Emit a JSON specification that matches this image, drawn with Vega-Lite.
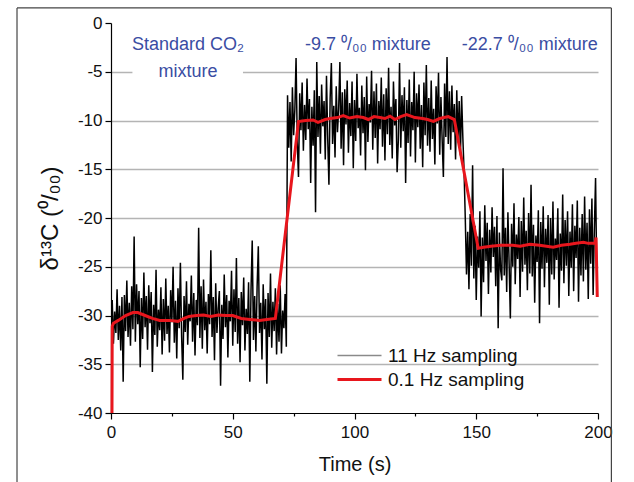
{
"$schema":"https://vega.github.io/schema/vega-lite/v6.json",
"width":487,"height":390,
"autosize":{"type":"none"},
"padding":{"left":111,"top":23,"right":36,"bottom":69},
"background":"white",
"config":{"view":{"stroke":null},"font":"Liberation Sans"},
"datasets":{
"hz11":[
{"t":0.5,"v":-28.4},{"t":1.0,"v":-32.9},{"t":1.5,"v":-29.6},{"t":2.0,"v":-31.8},{"t":2.5,"v":-27.3},{"t":3.0,"v":-32.5},{"t":3.5,"v":-29.0},{"t":4.0,"v":-33.6},{"t":4.5,"v":-28.1},{"t":5.0,"v":-36.8},
{"t":5.5,"v":-27.9},{"t":6.0,"v":-31.6},{"t":6.5,"v":-26.4},{"t":7.0,"v":-32.2},{"t":7.5,"v":-28.7},{"t":8.0,"v":-33.1},{"t":8.5,"v":-27.0},{"t":9.0,"v":-31.4},{"t":9.5,"v":-21.9},{"t":10.0,"v":-32.7},
{"t":10.5,"v":-26.8},{"t":11.0,"v":-30.9},{"t":11.5,"v":-27.5},{"t":12.0,"v":-35.3},{"t":12.5,"v":-28.2},{"t":13.0,"v":-32.4},{"t":13.5,"v":-25.6},{"t":14.0,"v":-31.2},{"t":14.5,"v":-28.0},{"t":15.0,"v":-33.5},
{"t":15.5,"v":-26.9},{"t":16.0,"v":-30.8},{"t":16.5,"v":-27.6},{"t":17.0,"v":-35.8},{"t":17.5,"v":-28.9},{"t":18.0,"v":-32.0},{"t":18.5,"v":-25.3},{"t":19.0,"v":-33.2},{"t":19.5,"v":-29.4},{"t":20.0,"v":-31.5},
{"t":20.5,"v":-27.1},{"t":21.0,"v":-34.0},{"t":21.5,"v":-28.3},{"t":22.0,"v":-32.6},{"t":22.5,"v":-26.2},{"t":23.0,"v":-31.9},{"t":23.5,"v":-29.0},{"t":24.0,"v":-33.8},{"t":24.5,"v":-27.4},{"t":25.0,"v":-30.7},
{"t":25.5,"v":-25.0},{"t":26.0,"v":-32.8},{"t":26.5,"v":-28.5},{"t":27.0,"v":-34.4},{"t":27.5,"v":-27.2},{"t":28.0,"v":-31.3},{"t":28.5,"v":-24.6},{"t":29.0,"v":-32.1},{"t":29.5,"v":-36.6},{"t":30.0,"v":-28.0},
{"t":30.5,"v":-31.7},{"t":31.0,"v":-26.5},{"t":31.5,"v":-33.0},{"t":32.0,"v":-28.8},{"t":32.5,"v":-30.6},{"t":33.0,"v":-25.9},{"t":33.5,"v":-32.7},{"t":34.0,"v":-27.7},{"t":34.5,"v":-34.1},{"t":35.0,"v":-28.4},
{"t":35.5,"v":-31.0},{"t":36.0,"v":-21.0},{"t":36.5,"v":-32.3},{"t":37.0,"v":-27.0},{"t":37.5,"v":-33.4},{"t":38.0,"v":-26.3},{"t":38.5,"v":-31.5},{"t":39.0,"v":-28.6},{"t":39.5,"v":-33.9},{"t":40.0,"v":-27.8},
{"t":40.5,"v":-30.9},{"t":41.0,"v":-23.3},{"t":41.5,"v":-32.2},{"t":42.0,"v":-28.1},{"t":42.5,"v":-34.6},{"t":43.0,"v":-26.7},{"t":43.5,"v":-31.8},{"t":44.0,"v":-29.2},{"t":44.5,"v":-27.5},{"t":45.0,"v":-37.2},
{"t":45.5,"v":-28.9},{"t":46.0,"v":-32.4},{"t":46.5,"v":-25.8},{"t":47.0,"v":-31.2},{"t":47.5,"v":-27.9},{"t":48.0,"v":-34.3},{"t":48.5,"v":-28.5},{"t":49.0,"v":-30.6},{"t":49.5,"v":-25.4},{"t":50.0,"v":-33.1},
{"t":50.5,"v":-27.3},{"t":51.0,"v":-31.7},{"t":51.5,"v":-24.1},{"t":52.0,"v":-32.9},{"t":52.5,"v":-28.2},{"t":53.0,"v":-34.8},{"t":53.5,"v":-27.6},{"t":54.0,"v":-31.0},{"t":54.5,"v":-26.1},{"t":55.0,"v":-33.6},
{"t":55.5,"v":-29.3},{"t":56.0,"v":-31.9},{"t":56.5,"v":-26.6},{"t":57.0,"v":-36.8},{"t":57.5,"v":-27.4},{"t":58.0,"v":-22.3},{"t":58.5,"v":-32.5},{"t":59.0,"v":-28.0},{"t":59.5,"v":-33.7},{"t":60.0,"v":-27.1},
{"t":60.5,"v":-22.9},{"t":61.0,"v":-31.8},{"t":61.5,"v":-28.7},{"t":62.0,"v":-34.5},{"t":62.5,"v":-26.8},{"t":63.0,"v":-31.4},{"t":63.5,"v":-28.3},{"t":64.0,"v":-37.0},{"t":64.5,"v":-27.7},{"t":65.0,"v":-32.2},
{"t":65.5,"v":-25.7},{"t":66.0,"v":-33.3},{"t":66.5,"v":-28.6},{"t":67.0,"v":-31.6},{"t":67.5,"v":-27.2},{"t":68.0,"v":-34.0},{"t":68.5,"v":-28.8},{"t":69.0,"v":-32.7},{"t":69.5,"v":-26.9},{"t":70.0,"v":-33.9},
{"t":70.5,"v":-29.5},{"t":71.0,"v":-31.3},{"t":71.5,"v":-27.8},{"t":72.0,"v":-33.2},
{"t":72.5,"v":-7.4},{"t":73.0,"v":-12.8},{"t":73.5,"v":-8.1},{"t":74.0,"v":-14.2},{"t":74.5,"v":-6.6},{"t":75.0,"v":-11.5},{"t":75.5,"v":-8.9},{"t":76.0,"v":-3.6},{"t":76.5,"v":-12.3},{"t":77.0,"v":-15.8},
{"t":77.5,"v":-7.2},{"t":78.0,"v":-11.0},{"t":78.5,"v":-6.1},{"t":79.0,"v":-13.1},{"t":79.5,"v":-8.4},{"t":80.0,"v":-12.0},{"t":80.5,"v":-5.7},{"t":81.0,"v":-10.9},{"t":81.5,"v":-7.8},{"t":82.0,"v":-16.4},
{"t":82.5,"v":-8.6},{"t":83.0,"v":-12.6},{"t":83.5,"v":-6.9},{"t":84.0,"v":-19.4},{"t":84.5,"v":-4.0},{"t":85.0,"v":-11.7},{"t":85.5,"v":-7.5},{"t":86.0,"v":-13.4},{"t":86.5,"v":-6.3},{"t":87.0,"v":-10.6},
{"t":87.5,"v":-8.0},{"t":88.0,"v":-14.0},{"t":88.5,"v":-5.4},{"t":89.0,"v":-11.9},{"t":89.5,"v":-16.6},{"t":90.0,"v":-7.7},{"t":90.5,"v":-4.1},{"t":91.0,"v":-12.4},{"t":91.5,"v":-8.5},{"t":92.0,"v":-13.8},
{"t":92.5,"v":-6.5},{"t":93.0,"v":-11.2},{"t":93.5,"v":-8.8},{"t":94.0,"v":-4.0},{"t":94.5,"v":-12.9},{"t":95.0,"v":-7.1},{"t":95.5,"v":-14.6},{"t":96.0,"v":-6.8},{"t":96.5,"v":-10.4},{"t":97.0,"v":-5.9},
{"t":97.5,"v":-13.3},{"t":98.0,"v":-8.2},{"t":98.5,"v":-11.6},{"t":99.0,"v":-6.0},{"t":99.5,"v":-14.9},{"t":100.0,"v":-7.9},{"t":100.5,"v":-12.1},{"t":101.0,"v":-5.2},{"t":101.5,"v":-10.8},{"t":102.0,"v":-8.7},
{"t":102.5,"v":-13.6},{"t":103.0,"v":-6.4},{"t":103.5,"v":-11.3},{"t":104.0,"v":-7.6},{"t":104.5,"v":-15.1},{"t":105.0,"v":-5.5},{"t":105.5,"v":-12.2},{"t":106.0,"v":-8.3},{"t":106.5,"v":-10.2},{"t":107.0,"v":-4.9},
{"t":107.5,"v":-13.0},{"t":108.0,"v":-7.0},{"t":108.5,"v":-11.8},{"t":109.0,"v":-6.2},{"t":109.5,"v":-14.4},{"t":110.0,"v":-8.0},{"t":110.5,"v":-10.9},{"t":111.0,"v":-5.6},{"t":111.5,"v":-12.7},{"t":112.0,"v":-7.3},
{"t":112.5,"v":-14.1},{"t":113.0,"v":-6.7},{"t":113.5,"v":-11.4},{"t":114.0,"v":-4.6},{"t":114.5,"v":-12.5},{"t":115.0,"v":-8.6},{"t":115.5,"v":-13.9},{"t":116.0,"v":-6.0},{"t":116.5,"v":-10.5},{"t":117.0,"v":-7.8},
{"t":117.5,"v":-15.3},{"t":118.0,"v":-12.0},{"t":118.5,"v":-4.1},{"t":119.0,"v":-12.8},{"t":119.5,"v":-7.4},{"t":120.0,"v":-11.1},{"t":120.5,"v":-6.6},{"t":121.0,"v":-16.4},{"t":121.5,"v":-7.9},{"t":122.0,"v":-12.3},
{"t":122.5,"v":-5.8},{"t":123.0,"v":-13.7},{"t":123.5,"v":-8.1},{"t":124.0,"v":-11.0},{"t":124.5,"v":-5.0},{"t":125.0,"v":-14.3},{"t":125.5,"v":-7.2},{"t":126.0,"v":-10.7},{"t":126.5,"v":-6.3},{"t":127.0,"v":-12.9},
{"t":127.5,"v":-8.4},{"t":128.0,"v":-14.8},{"t":128.5,"v":-6.1},{"t":129.0,"v":-11.5},{"t":129.5,"v":-4.3},{"t":130.0,"v":-12.6},{"t":130.5,"v":-7.7},{"t":131.0,"v":-13.2},{"t":131.5,"v":-5.9},{"t":132.0,"v":-11.9},
{"t":132.5,"v":-8.8},{"t":133.0,"v":-14.5},{"t":133.5,"v":-6.5},{"t":134.0,"v":-10.3},{"t":134.5,"v":-5.1},{"t":135.0,"v":-13.5},{"t":135.5,"v":-7.6},{"t":136.0,"v":-12.0},{"t":136.5,"v":-15.8},{"t":137.0,"v":-6.2},
{"t":137.5,"v":-11.7},{"t":138.0,"v":-3.5},{"t":138.5,"v":-12.4},{"t":139.0,"v":-7.0},{"t":139.5,"v":-13.0},{"t":140.0,"v":-6.4},{"t":140.5,"v":-11.2},{"t":141.0,"v":-8.3},{"t":141.5,"v":-14.0},{"t":142.0,"v":-6.9},
{"t":142.5,"v":-12.2},{"t":143.0,"v":-8.0},{"t":143.5,"v":-13.6},{"t":144.0,"v":-7.5},{"t":144.5,"v":-11.8},{"t":145.0,"v":-15.2},
{"t":145.5,"v":-20.1},{"t":146.0,"v":-25.8},{"t":146.5,"v":-21.4},{"t":147.0,"v":-27.3},{"t":147.5,"v":-19.6},{"t":148.0,"v":-24.9},{"t":148.5,"v":-14.6},{"t":149.0,"v":-26.2},{"t":149.5,"v":-20.8},{"t":150.0,"v":-28.4},
{"t":150.5,"v":-21.9},{"t":151.0,"v":-25.1},{"t":151.5,"v":-19.3},{"t":152.0,"v":-30.1},{"t":152.5,"v":-22.0},{"t":153.0,"v":-26.6},{"t":153.5,"v":-18.7},{"t":154.0,"v":-24.4},{"t":154.5,"v":-20.5},{"t":155.0,"v":-27.8},
{"t":155.5,"v":-21.2},{"t":156.0,"v":-25.6},{"t":156.5,"v":-18.9},{"t":157.0,"v":-24.0},{"t":157.5,"v":-20.9},{"t":158.0,"v":-27.0},{"t":158.5,"v":-19.8},{"t":159.0,"v":-31.3},{"t":159.5,"v":-21.5},{"t":160.0,"v":-25.3},
{"t":160.5,"v":-26.4},{"t":161.0,"v":-14.9},{"t":161.5,"v":-25.9},{"t":162.0,"v":-21.0},{"t":162.5,"v":-27.6},{"t":163.0,"v":-19.4},{"t":163.5,"v":-24.7},{"t":164.0,"v":-30.3},{"t":164.5,"v":-20.6},{"t":165.0,"v":-25.0},
{"t":165.5,"v":-18.5},{"t":166.0,"v":-26.8},{"t":166.5,"v":-21.7},{"t":167.0,"v":-24.2},{"t":167.5,"v":-19.9},{"t":168.0,"v":-28.1},{"t":168.5,"v":-20.3},{"t":169.0,"v":-25.5},{"t":169.5,"v":-17.9},{"t":170.0,"v":-24.8},
{"t":170.5,"v":-21.3},{"t":171.0,"v":-27.4},{"t":171.5,"v":-19.5},{"t":172.0,"v":-25.7},{"t":172.5,"v":-16.6},{"t":173.0,"v":-26.0},{"t":173.5,"v":-20.7},{"t":174.0,"v":-28.7},{"t":174.5,"v":-21.8},{"t":175.0,"v":-24.5},
{"t":175.5,"v":-19.2},{"t":176.0,"v":-30.8},{"t":176.5,"v":-20.4},{"t":177.0,"v":-25.2},{"t":177.5,"v":-18.8},{"t":178.0,"v":-27.1},{"t":178.5,"v":-21.1},{"t":179.0,"v":-24.6},{"t":179.5,"v":-19.7},{"t":180.0,"v":-28.9},
{"t":180.5,"v":-20.0},{"t":181.0,"v":-25.8},{"t":181.5,"v":-18.3},{"t":182.0,"v":-26.3},{"t":182.5,"v":-22.1},{"t":183.0,"v":-24.3},{"t":183.5,"v":-19.0},{"t":184.0,"v":-29.2},{"t":184.5,"v":-21.6},{"t":185.0,"v":-25.4},
{"t":185.5,"v":-17.6},{"t":186.0,"v":-26.7},{"t":186.5,"v":-20.2},{"t":187.0,"v":-24.9},{"t":187.5,"v":-19.3},{"t":188.0,"v":-28.0},{"t":188.5,"v":-21.4},{"t":189.0,"v":-25.1},{"t":189.5,"v":-18.6},{"t":190.0,"v":-27.5},
{"t":190.5,"v":-20.8},{"t":191.0,"v":-24.1},{"t":191.5,"v":-18.2},{"t":192.0,"v":-28.6},{"t":192.5,"v":-21.0},{"t":193.0,"v":-25.9},{"t":193.5,"v":-19.6},{"t":194.0,"v":-26.5},{"t":194.5,"v":-17.8},{"t":195.0,"v":-25.3},
{"t":195.5,"v":-20.5},{"t":196.0,"v":-28.3},{"t":196.5,"v":-19.1},{"t":197.0,"v":-24.7},{"t":197.5,"v":-18.0},{"t":198.0,"v":-27.9},{"t":198.5,"v":-21.2},{"t":199.0,"v":-15.9},{"t":199.5,"v":-26.0}
],
"hz01":[
{"t":0.4,"v":-40},{"t":0.5,"v":-31.1},{"t":1,"v":-30.8},{"t":3,"v":-30.5},{"t":6,"v":-30.0},{"t":9,"v":-29.7},{"t":11,"v":-29.7},{"t":14,"v":-30.0},{"t":17,"v":-30.3},{"t":20,"v":-30.5},
{"t":24,"v":-30.5},{"t":27.5,"v":-30.6},{"t":30,"v":-30.3},{"t":32,"v":-30.1},{"t":35,"v":-30.0},{"t":38,"v":-29.95},{"t":41,"v":-30.1},{"t":44,"v":-29.95},{"t":47,"v":-30.0},{"t":50,"v":-30.0},
{"t":53.5,"v":-30.3},{"t":57,"v":-30.4},{"t":61,"v":-30.5},{"t":64,"v":-30.4},{"t":67.5,"v":-30.3},{"t":77,"v":-10.1},{"t":80,"v":-10.0},{"t":83,"v":-9.95},{"t":85,"v":-10.2},{"t":88,"v":-9.9},
{"t":90,"v":-9.8},{"t":93,"v":-9.7},{"t":95.4,"v":-9.5},{"t":98,"v":-9.75},{"t":101,"v":-9.6},{"t":103.6,"v":-9.7},{"t":105.7,"v":-9.9},{"t":108,"v":-9.6},{"t":110.5,"v":-9.7},{"t":112.5,"v":-9.8},
{"t":114.6,"v":-9.55},{"t":116.6,"v":-9.9},{"t":119,"v":-9.6},{"t":121.4,"v":-9.4},{"t":124.8,"v":-9.7},{"t":128,"v":-9.8},{"t":130,"v":-9.9},{"t":132.4,"v":-10.1},{"t":135,"v":-9.8},{"t":138.5,"v":-9.6},
{"t":141,"v":-9.9},{"t":150.8,"v":-23.1},{"t":153,"v":-23.0},{"t":156,"v":-22.9},{"t":160,"v":-22.8},{"t":165,"v":-22.8},{"t":168,"v":-22.9},{"t":172,"v":-22.7},{"t":176,"v":-22.8},{"t":181.6,"v":-23.0},
{"t":185,"v":-22.8},{"t":188.5,"v":-22.7},{"t":191,"v":-22.6},{"t":194,"v":-22.5},{"t":196,"v":-22.6},{"t":198.8,"v":-22.6},{"t":199.2,"v":-22.0},{"t":199.7,"v":-28.1}
],
"notes":[
{"t":31.6,"v":-2.3,"label":"Standard CO₂"},
{"t":31.6,"v":-5.0,"label":"mixture"},
{"t":105.5,"v":-2.3,"label":"-9.7 ⁰/₀₀ mixture"},
{"t":172,"v":-2.3,"label":"-22.7 ⁰/₀₀ mixture"}
]
},
"layer":[
{
"data":{"values":[{}]},
"mark":{"type":"rule","stroke":"#444444","strokeWidth":1.2,"clip":false},
"encoding":{"x":{"datum":-38.6,"type":"quantitative","scale":{"domain":[0,200],"nice":false}},"y":{"datum":1.55,"type":"quantitative","scale":{"domain":[-40,0],"nice":false}},"y2":{"datum":-49}}
},
{
"data":{"values":[{}]},
"mark":{"type":"rule","stroke":"#444444","strokeWidth":1.2,"clip":false},
"encoding":{"x":{"datum":205.5,"type":"quantitative"},"y":{"datum":1.55,"type":"quantitative"},"y2":{"datum":-49}}
},
{
"data":{"values":[{}]},
"mark":{"type":"rule","stroke":"#444444","strokeWidth":1.2,"clip":false},
"encoding":{"x":{"datum":-38.6,"type":"quantitative"},"x2":{"datum":205.5},"y":{"datum":1.55,"type":"quantitative"}}
},
{
"data":{"values":[{}]},
"mark":{"type":"rect","fill":"white","strokeWidth":0},
"encoding":{"x":{"datum":8.8,"type":"quantitative"},"x2":{"datum":54.2},"y":{"datum":-3.9,"type":"quantitative"},"y2":{"datum":-6.2}}
},
{
"data":{"name":"hz11"},
"mark":{"type":"line","strokeWidth":1.5,"stroke":"#000000","interpolate":"linear"},
"encoding":{
"x":{"field":"t","type":"quantitative",
"axis":{"title":"Time (s)","values":[0,25,50,75,100,125,150,175,200],"labelExpr":"datum.value % 50 == 0 ? datum.label : ''","grid":false,"domainColor":"#000","domainWidth":1.2,"tickColor":"#000",
"tickSize":{"condition":{"test":"datum.value % 50 != 0","value":3},"value":6},"tickWidth":1.2,"labelFontSize":17,"labelColor":"#111","labelPadding":5,"titleFontSize":20,"titleFontWeight":"normal","titleColor":"#111","titlePadding":14,"labelFlush":false}},
"y":{"field":"v","type":"quantitative",
"axis":{"title":"δ¹³C (⁰/₀₀)","values":[-40,-37.5,-35,-32.5,-30,-27.5,-25,-22.5,-20,-17.5,-15,-12.5,-10,-7.5,-5,-2.5,0],"labelExpr":"datum.value % 5 == 0 ? replace(datum.label, '−', '-') : ''","grid":true,"gridColor":"#b4b4b4","gridWidth":1.3,
"gridOpacity":{"condition":{"test":"datum.value % 5 != 0 || datum.value == 0 || datum.value == -40","value":0},"value":1},
"domainColor":"#000","domainWidth":1.2,"tickColor":"#000","tickSize":{"condition":{"test":"datum.value % 5 != 0","value":3},"value":6},"tickWidth":1.2,"labelFontSize":17,"labelColor":"#111","labelPadding":3,"titleFontSize":24,"titleFontWeight":"normal","titleColor":"#111","titlePadding":15,"labelFlush":false}}
}
},
{
"data":{"name":"hz01"},
"mark":{"type":"line","strokeWidth":3,"interpolate":"linear"},
"encoding":{
"x":{"field":"t","type":"quantitative"},
"y":{"field":"v","type":"quantitative"},
"color":{"datum":"0.1 Hz sampling","type":"nominal","scale":{"domain":["11 Hz sampling","0.1 Hz sampling"],"range":["#8a8a8a","#e8161d"]},
"legend":{"title":null,"orient":"none","legendX":239,"legendY":323,"symbolType":"stroke","symbolSize":1936,"symbolStrokeWidth":2,"labelFontSize":19,"labelColor":"#111","labelOffset":19,"rowPadding":4,
"encode":{"symbols":{"update":{"strokeWidth":{"signal":"datum.value === '0.1 Hz sampling' ? 3 : 1.6"}}}}}}
}
},
{
"data":{"name":"notes"},
"mark":{"type":"text","fontSize":18,"color":"#3a4da3","align":"center","baseline":"middle"},
"encoding":{"x":{"field":"t","type":"quantitative"},"y":{"field":"v","type":"quantitative"},"text":{"field":"label"}}
}
]
}
